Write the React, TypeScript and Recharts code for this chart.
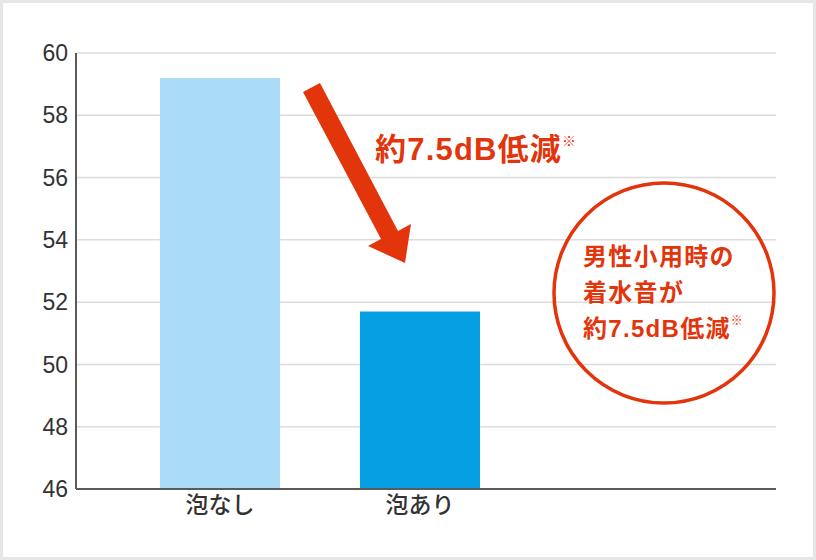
import { Bar, BarChart, CartesianGrid, Cell, XAxis, YAxis } from "recharts";

const categories = ["泡なし", "泡あり"];
const noiseDb = [59.2, 51.7];
const yTicks = [46, 48, 50, 52, 54, 56, 58, 60];
const barColors = ["#abdcf7", "#04a0e3"];

const RED = "#e3350b";
// Latin glyphs from Liberation Sans, kana/kanji fall back to Noto CJK
const MIXED = '"Liberation Sans", "Noto Sans CJK JP", sans-serif';
const CJK = '"Noto Sans CJK JP", "Noto Sans", sans-serif';

const data = categories.map((name, i) => ({ name, value: noiseDb[i] }));

// arrow + circle callout drawn over the plot
function Callout() {
  return (
    <svg
      width={816}
      height={560}
      style={{ position: "absolute", left: 0, top: 0, pointerEvents: "none" }}
    >
      <polygon
        points="303,92 320,83 398,231 411,224 405,263 368,246 381,239"
        fill={RED}
      />
      <text
        x={375}
        y={160}
        fill={RED}
        fontFamily={MIXED}
        fontSize={31}
        fontWeight={700}
        letterSpacing={1.2}
      >
        約7.5dB低減
        <tspan fontSize={14} fontWeight={400} dy={-14}>
          ※
        </tspan>
      </text>
      <circle cx={664} cy={293} r={110} fill="none" stroke={RED} strokeWidth={3.5} />
      <g
        fill={RED}
        fontFamily={MIXED}
        fontSize={24}
        fontWeight={700}
        letterSpacing={1.3}
      >
        <text x={583} y={265}>男性小用時の</text>
        <text x={583} y={301}>着水音が</text>
        <text x={583} y={337}>
          約7.5dB低減
          <tspan fontSize={12} fontWeight={400} dy={-12}>
            ※
          </tspan>
        </text>
      </g>
    </svg>
  );
}

export default function App() {
  return (
    <div
      style={{
        position: "absolute",
        left: 0,
        top: 0,
        width: 816,
        height: 560,
        background: "#fff",
      }}
    >
      <BarChart
        width={816}
        height={560}
        data={data}
        margin={{ top: 53, right: 40, bottom: 41, left: 0 }}
      >
        <CartesianGrid vertical={false} stroke="#dcdcdc" strokeWidth={1.5} />
        <XAxis
          dataKey="name"
          type="category"
          height={30}
          padding={{ left: 44, right: 256 }}
          axisLine={{ stroke: "#5a5a5a", strokeWidth: 2 }}
          tickLine={false}
          tick={{ fontSize: 23, fill: "#333", fontFamily: CJK, fontWeight: 500 }}
        />
        <YAxis
          type="number"
          domain={[46, 60]}
          ticks={yTicks}
          width={76}
          interval={0}
          axisLine={{ stroke: "#5a5a5a", strokeWidth: 2 }}
          tickLine={false}
          tick={{
            fontSize: 23,
            fill: "#333",
            fontFamily: '"Liberation Sans", Arial, sans-serif',
          }}
        />
        <Bar dataKey="value" barSize={120} isAnimationActive={false}>
          {data.map((d, i) => (
            <Cell key={d.name} fill={barColors[i]} />
          ))}
        </Bar>
      </BarChart>
      <Callout />
      <div
        style={{
          position: "absolute",
          inset: 0,
          border: "3px solid #e6e6e6",
          pointerEvents: "none",
        }}
      />
    </div>
  );
}
